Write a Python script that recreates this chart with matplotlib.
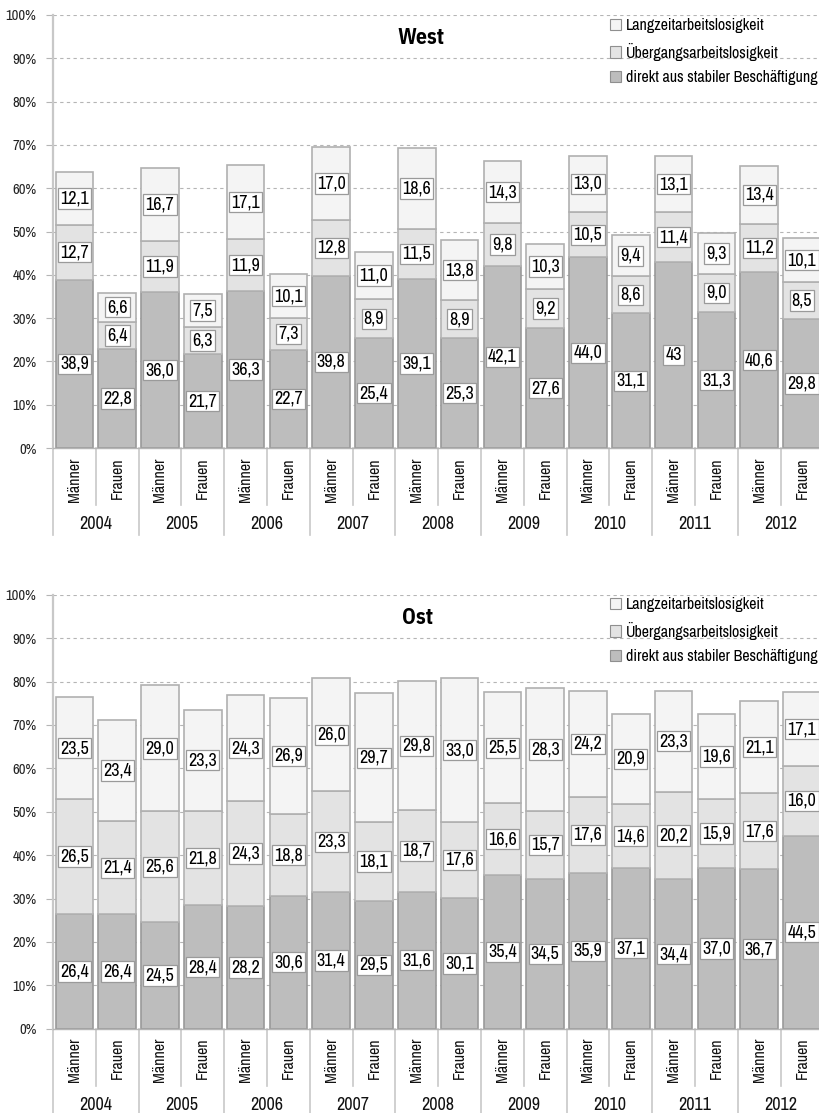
import matplotlib
matplotlib.use("Agg")
import matplotlib.pyplot as plt
from matplotlib.patches import Patch

plt.rcParams['font.family'] = ['Archivo Narrow', 'Liberation Sans Narrow', 'DejaVu Sans']
TITEL_FONT = ['IBM Plex Sans Condensed', 'Barlow Condensed', 'DejaVu Sans']

# Balken: je Jahr Männer, Frauen
jahre = ['2004', '2005', '2006', '2007', '2008', '2009', '2010', '2011', '2012']
geschlecht = ['Männer', 'Frauen']
serien = ['direkt aus stabiler Beschäftigung', 'Übergangsarbeitslosigkeit', 'Langzeitarbeitslosigkeit']

# West
west_direkt = [38.9, 22.8, 36.0, 21.7, 36.3, 22.7, 39.8, 25.4, 39.1, 25.3,
               42.1, 27.6, 44.0, 31.1, 43, 31.3, 40.6, 29.8]
west_uebergang = [12.7, 6.4, 11.9, 6.3, 11.9, 7.3, 12.8, 8.9, 11.5, 8.9,
                  9.8, 9.2, 10.5, 8.6, 11.4, 9.0, 11.2, 8.5]
west_langzeit = [12.1, 6.6, 16.7, 7.5, 17.1, 10.1, 17.0, 11.0, 18.6, 13.8,
                 14.3, 10.3, 13.0, 9.4, 13.1, 9.3, 13.4, 10.1]

# Ost
ost_direkt = [26.4, 26.4, 24.5, 28.4, 28.2, 30.6, 31.4, 29.5, 31.6, 30.1,
              35.4, 34.5, 35.9, 37.1, 34.4, 37.0, 36.7, 44.5]
ost_uebergang = [26.5, 21.4, 25.6, 21.8, 24.3, 18.8, 23.3, 18.1, 18.7, 17.6,
                 16.6, 15.7, 17.6, 14.6, 20.2, 15.9, 17.6, 16.0]
ost_langzeit = [23.5, 23.4, 29.0, 23.3, 24.3, 26.9, 26.0, 29.7, 29.8, 33.0,
                25.5, 28.3, 24.2, 20.9, 23.3, 19.6, 21.1, 17.1]

farben = ['#bdbdbd', '#e3e3e3', '#f4f4f4']
kanten = ['#999999', '#b3b3b3', '#b0b0b0']
grau = '#b5b5b5'
W, H = 820, 1113


def fmt(v):
    return str(v).replace('.', ',')


def panel(rect, werte, titel, titel_xy, legend_top):
    ax = fig.add_axes(rect)
    n = len(werte[0])
    x = list(range(n))
    unten = [0] * n
    for vals, fc, ec in zip(werte, farben, kanten):
        ax.bar(x, vals, bottom=unten, width=0.88, color=fc, edgecolor=ec, linewidth=1.2, zorder=2)
        for i, v in enumerate(vals):
            ax.text(i, unten[i] + v / 2, fmt(v), ha='center', va='center', fontsize=13, zorder=4,
                    bbox=dict(boxstyle='square,pad=0.12', fc='white', ec='#9a9a9a', lw=0.9))
        unten = [u + v for u, v in zip(unten, vals)]

    ax.set_xlim(-0.5, n - 0.5)
    ax.set_ylim(0, 100)
    ax.set_yticks(range(0, 101, 10))
    ax.set_yticklabels([f'{t}%' for t in range(0, 101, 10)], fontsize=10.5, color='#222222')
    ax.set_xticks([])
    ax.tick_params(axis='y', length=5, width=0.8, color=grau, pad=7)
    ax.grid(axis='y', linestyle=(0, (3, 3)), color=grau, linewidth=0.8)
    ax.set_axisbelow(True)
    for s in ['top', 'right']:
        ax.spines[s].set_visible(False)
    ax.spines['left'].set_color('#c8c8c8')
    ax.spines['left'].set_linewidth(1.6)
    ax.spines['bottom'].set_color(grau)
    ax.spines['bottom'].set_linewidth(1.0)

    # Kategorienachse: Geschlecht und Jahr
    tr = ax.get_xaxis_transform()
    for i in range(n):
        ax.text(i, -0.021, geschlecht[i % 2], rotation=90, ha='center', va='top', fontsize=11.5,
                transform=tr, color='#111111')
    for k, j in enumerate(jahre):
        ax.text(2 * k + 0.5, -0.175, j, ha='center', va='center', fontsize=13,
                transform=tr, color='#111111')
    for i in range(n + 1):
        tief = -0.2 if i % 2 == 0 else -0.132
        ax.plot([i - 0.5, i - 0.5], [0, tief], color='#c8c8c8', lw=1.2,
                transform=tr, clip_on=False)

    fig.text(titel_xy[0] / W, 1 - titel_xy[1] / H, titel, ha='center', va='center',
             fontsize=15.5, fontweight='bold', family=TITEL_FONT)

    handles = [Patch(facecolor=fc, edgecolor='#8f8f8f', linewidth=0.8, label=lab)
               for fc, lab in zip(farben[::-1], serien[::-1])]
    ax.legend(handles=handles, loc='upper left', bbox_to_anchor=(610 / W, 1 - legend_top / H),
              bbox_transform=fig.transFigure, frameon=False, fontsize=11.5,
              handlelength=0.7, handleheight=0.7, handletextpad=0.3,
              labelspacing=0.6, borderpad=0, borderaxespad=0)
    return ax


fig = plt.figure(figsize=(W / 100, H / 100), dpi=100)
ax_w = 770.4 / W
panel([53 / W, 1 - 448 / H, ax_w, 433 / H],
      [west_direkt, west_uebergang, west_langzeit], 'West', (421, 38), 18)
panel([53 / W, 1 - 1028.7 / H, ax_w, 434 / H],
      [ost_direkt, ost_uebergang, ost_langzeit], 'Ost', (418, 618), 597)

fig.savefig('out.png', dpi=100)
